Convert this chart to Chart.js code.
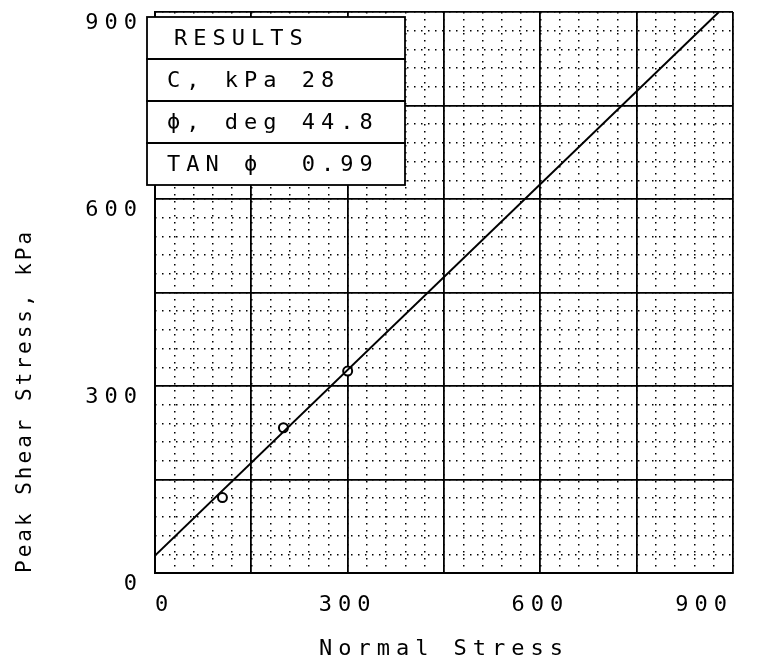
<!DOCTYPE html>
<html><head><meta charset="utf-8">
<script src="https://cdn.jsdelivr.net/npm/chart.js@4/dist/chart.umd.min.js"></script>
<style>html,body{margin:0;padding:0;background:#fff;}#wrap{width:758px;height:662px;}</style>
</head><body>
<div id="wrap"><canvas id="c" width="758" height="662"></canvas></div>
<script>
// ---- data ----
const normalStress = [105, 200, 300];
const peakShear = [121, 233, 324];
const fitNormal = [0, 878];
const fitShear = [28, 900];
const tickValues = [0, 300, 600, 900];
const tickLabels = ['0', '300', '600', '900'];
const resultRows = ['RESULTS', 'C, kPa 28', 'ϕ, deg 44.8', 'TAN ϕ  0.99'];
const axisMin = 0, axisMax = 900, majorStep = 150, minorStep = 30;

const FONT = 'DejaVu Sans Mono';
const SPACING = '6px';
const Y_TITLE_SPACING = '3px';
Chart.defaults.color = '#000';
Chart.defaults.font.family = FONT;

const spacingPlugin = {
  id: 'spacing',
  beforeInit(chart){ chart.ctx.letterSpacing = SPACING; },
  beforeUpdate(chart){ chart.ctx.letterSpacing = SPACING; },
  beforeDraw(chart){
    const ctx = chart.ctx;
    ctx.letterSpacing = SPACING;
    const ys = chart.scales.y;
    if (ys && !ys._spacedTitle) {
      const orig = ys.drawTitle.bind(ys);
      ys.drawTitle = function(){
        const c = this.ctx;
        const prev = c.letterSpacing;
        c.letterSpacing = Y_TITLE_SPACING;
        orig();
        c.letterSpacing = prev;
      };
      ys._spacedTitle = true;
    }
    ctx.save();
    ctx.fillStyle = '#fff';
    ctx.fillRect(0, 0, chart.width, chart.height);
    ctx.restore();
  }
};

const resultsBox = {
  id: 'resultsBox',
  afterDraw(chart){
    const ctx = chart.ctx, ca = chart.chartArea;
    const left = ca.left - 8, top = ca.top + 5, w = 258, rh = 42;
    ctx.save();
    ctx.fillStyle = '#fff';
    ctx.fillRect(left, top, w, rh * resultRows.length);
    ctx.strokeStyle = '#000';
    ctx.lineWidth = 1.8;
    ctx.font = '22px "' + FONT + '"';
    ctx.textBaseline = 'middle';
    resultRows.forEach((t, i) => {
      ctx.strokeRect(left, top + i * rh, w, rh);
      ctx.fillStyle = '#000';
      ctx.fillText(t, left + (i === 0 ? 27 : 20), top + i * rh + rh / 2 + 1);
    });
    ctx.restore();
  }
};

const tickCb = (v) => { const i = tickValues.indexOf(v); return i >= 0 ? tickLabels[i] : ''; };

new Chart(document.getElementById('c'), {
  type: 'scatter',
  data: {
    datasets: [
      {
        label: 'fit',
        data: fitNormal.map((x, i) => ({x: x, y: fitShear[i]})),
        showLine: true,
        borderColor: '#000',
        borderWidth: 2,
        pointRadius: 0,
        xAxisID: 'x', yAxisID: 'y'
      },
      {
        label: 'tests',
        data: normalStress.map((x, i) => ({x: x, y: peakShear[i]})),
        pointRadius: 4.5,
        pointBorderWidth: 2,
        pointBorderColor: '#000',
        pointBackgroundColor: '#fff',
        xAxisID: 'x', yAxisID: 'y'
      }
    ]
  },
  options: {
    responsive: false,
    animation: false,
    devicePixelRatio: 1,
    layout: { padding: { top: 10, right: 25, left: 0, bottom: 0 } },
    plugins: { legend: { display: false }, tooltip: { enabled: false } },
    scales: {
      x: {
        type: 'linear', position: 'bottom', min: axisMin, max: axisMax,
        ticks: { stepSize: majorStep, autoSkip: false, maxRotation: 0, minRotation: 0, align: 'inner', padding: 19,
                 font: { family: FONT, size: 22 }, color: '#000', callback: tickCb },
        grid: { color: '#000', lineWidth: 1.8, drawTicks: false },
        border: { display: true, color: '#000', width: 2 },
        title: { display: true, text: 'Normal Stress', color: '#000', font: { family: FONT, size: 22 }, padding: { top: 4, bottom: 0 } },
        afterFit(s){ s.height = 89; }
      },
      x2: {
        type: 'linear', position: 'bottom', min: axisMin, max: axisMax,
        ticks: { display: false, stepSize: minorStep },
        grid: { color: '#000', lineWidth: 1.5, drawTicks: false },
        border: { display: false, dash: [1.5, 5.5] },
        afterFit(s){ s.height = 0; }
      },
      y: {
        type: 'linear', position: 'left', min: axisMin, max: axisMax,
        ticks: { stepSize: majorStep, autoSkip: false, align: 'start', padding: 12,
                 font: { family: FONT, size: 22 }, color: '#000', callback: tickCb },
        grid: { color: '#000', lineWidth: 1.8, drawTicks: false },
        border: { display: true, color: '#000', width: 2 },
        title: { display: true, text: 'Peak Shear Stress, kPa', align: 'start', color: '#000', font: { family: FONT, size: 21 }, padding: { top: 13, bottom: 0 } },
        afterFit(s){ s.width = 155; }
      },
      y2: {
        type: 'linear', position: 'left', min: axisMin, max: axisMax,
        ticks: { display: false, stepSize: minorStep },
        grid: { color: '#000', lineWidth: 1.5, drawTicks: false },
        border: { display: false, dash: [1.5, 5.5] },
        afterFit(s){ s.width = 0; }
      }
    }
  },
  plugins: [spacingPlugin, resultsBox]
});
</script>
</body></html>
